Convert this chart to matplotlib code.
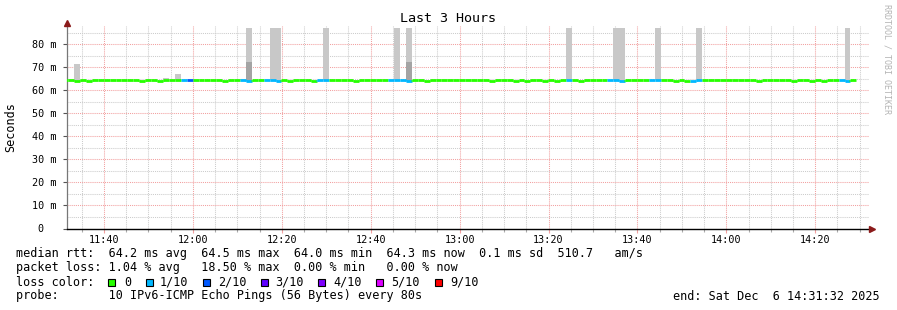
import matplotlib
matplotlib.use("Agg")
import matplotlib.pyplot as plt
from matplotlib.patches import Rectangle
from matplotlib.ticker import MultipleLocator, FuncFormatter

# --- data ----------------------------------------------------------------
# time axis in minutes since midnight, one step = 80 s
t_start = 691.56          # 11:31:34 left edge of graph
t_end = 872.1
t_first_step = 690.59     # start of first (partly hidden) step
step = 80 / 60

B, U, D = 64.2, 64.5, 63.8
median_ms = [
    U, B, D, B, D, U, U, B, B, U,
    B, B, B, D, B, B, D, U, B, B,
    B, U, U, U, B, B, B, D, B, B,
    B, D, B, B, B, B, D, B, D, U,
    B, B, D, U, U, U, B, B, B, D,
    B, B, B, B, B, U, B, B, D, B,
    B, D, U, B, B, B, U, U, U, U,
    B, B, D, B, B, B, D, B, D, B,
    B, D, B, D, U, B, B, D, U, U,
    U, U, B, B, D, U, B, B, B, B,
    B, B, B, D, B, D, D, U, B, B,
    B, U, U, U, B, B, B, D, B, B,
    B, B, B, D, B, B, D, B, D, B,
    B, U, D, U,
]
loss = [
    0, 0, 0, 0, 0, 0, 0, 0, 0, 0,
    0, 0, 0, 0, 0, 0, 0, 0, 0, 0,
    1, 2, 0, 0, 0, 0, 0, 0, 0, 0,
    1, 1, 0, 0, 1, 1, 1, 0, 0, 0,
    0, 0, 0, 1, 1, 0, 0, 0, 0, 0,
    0, 0, 0, 0, 0, 1, 1, 1, 1, 0,
    0, 0, 0, 0, 0, 0, 0, 0, 0, 0,
    0, 0, 0, 0, 0, 0, 0, 0, 0, 0,
    0, 0, 0, 0, 0, 1, 0, 0, 0, 0,
    0, 0, 1, 1, 1, 0, 0, 0, 0, 1,
    1, 0, 0, 0, 0, 0, 1, 1, 0, 0,
    0, 0, 0, 0, 0, 0, 0, 0, 0, 0,
    0, 0, 0, 0, 0, 0, 0, 0, 0, 0,
    0, 1, 1, 0,
]
# smoke (ping spread) – step index (i, first step = -1) and top value
smoke_idx = [1, 16, 18, 29, 30, 34, 35, 43, 55, 57, 84, 92, 93, 99, 106, 131]
smoke_top = [71.5, 65.3, 67.0, 64.8, 87, 87, 87, 87, 87, 87, 87, 87, 87, 87, 87, 87]
dark_idx = [30, 57]
dark_top = [72.3, 72.0]

loss_labels = ["0", "1/10", "2/10", "3/10", "4/10", "5/10", "9/10"]
loss_colors = ["#26ff00", "#00b8ff", "#0059ff", "#5e00ff", "#7e00ff", "#dd00ff", "#ff0000"]
loss_color_of = {0: "#26ff00", 1: "#00b8ff", 2: "#0059ff", 3: "#5e00ff",
                 4: "#7e00ff", 5: "#dd00ff", 9: "#ff0000"}

line1 = "median rtt:  64.2 ms avg  64.5 ms max  64.0 ms min  64.3 ms now  0.1 ms sd  510.7   am/s"
line2 = "packet loss: 1.04 % avg   18.50 % max  0.00 % min   0.00 % now"
line3 = "loss color:"
line4 = "probe:       10 IPv6-ICMP Echo Pings (56 Bytes) every 80s"
end_text = "end: Sat Dec  6 14:31:32 2025"

# --- figure ----------------------------------------------------------------
W, H = 897, 310
MONO = "DejaVu Sans Mono"
plt.rcParams["font.family"] = MONO

fig = plt.figure(figsize=(W / 100, H / 100), dpi=100)
fig.patch.set_facecolor("white")
ax = fig.add_axes([66.5 / W, 81.5 / H, (869 - 66.5) / W, (284.4 - 81.5) / H])
ax.set_xlim(t_start, t_end)
ax.set_ylim(0, 88)

edges = [t_first_step + k * step for k in range(len(median_ms))]

# grid
ax.xaxis.set_major_locator(MultipleLocator(20))
ax.xaxis.set_minor_locator(MultipleLocator(5))
ax.yaxis.set_major_locator(MultipleLocator(10))
ax.yaxis.set_minor_locator(MultipleLocator(5))
ax.grid(which="minor", color="#cccccc", linestyle=(0, (1, 1)), linewidth=0.75)
ax.grid(which="major", color="#f2a0a0", linestyle=(0, (1, 1)), linewidth=0.75)
ax.set_axisbelow(True)

# smoke
sx = [edges[i + 1] for i in smoke_idx]
sb = [median_ms[i + 1] for i in smoke_idx]
ax.bar(sx, [t - b for t, b in zip(smoke_top, sb)], width=step, bottom=sb,
       align="edge", color="#c8c8c8", linewidth=0, zorder=3)
dx = [edges[i + 1] for i in dark_idx]
db = [median_ms[i + 1] for i in dark_idx]
ax.bar(dx, [t - b for t, b in zip(dark_top, db)], width=step, bottom=db,
       align="edge", color="#a4a4a4", linewidth=0, zorder=3)

# median line coloured by loss
cols = [loss_color_of[l] for l in loss]
ax.hlines(median_ms, edges, [e + step for e in edges], colors=cols,
          linewidth=2.0, zorder=4, clip_on=True)
ax.vlines(edges[1:], median_ms[:-1], median_ms[1:], colors=cols[1:],
          linewidth=2.0, zorder=4)

# axes look
for s in ("top", "right"):
    ax.spines[s].set_visible(False)
ax.spines["left"].set_color("#777777")
ax.spines["bottom"].set_color("black")
ax.spines["left"].set_linewidth(0.9)
ax.spines["bottom"].set_linewidth(1.0)
ax.tick_params(axis="y", which="major", length=3, width=0.8, color="#555555",
               labelsize=7.3, pad=4)
ax.tick_params(axis="y", which="minor", length=0)
ax.tick_params(axis="x", which="major", length=3, width=0.8, color="#f2a0a0",
               labelsize=7.3, pad=2)
ax.tick_params(axis="x", which="minor", length=2, width=0.8, color="#aaaaaa")


def fmt_time(v, pos):
    m = int(round(v))
    return f"{m // 60:02d}:{m % 60:02d}"


def fmt_ms(v, pos):
    v = int(round(v))
    return "0  " if v == 0 else f"{v} m"


ax.xaxis.set_major_formatter(FuncFormatter(fmt_time))
ax.yaxis.set_major_formatter(FuncFormatter(fmt_ms))
ax.set_yticks(range(0, 81, 10))

# arrow heads
ax.plot([0], [1.012], marker="^", color="#8b1a1a", markersize=4,
        transform=ax.transAxes, clip_on=False, zorder=6)
ax.plot([1.004], [0], marker=">", color="#8b1a1a", markersize=4,
        transform=ax.transAxes, clip_on=False, zorder=6)


def ftext(x, y, s, **kw):
    fig.text(x / W, 1 - y / H, s, **kw)


ftext(448, 19, "Last 3 Hours", ha="center", va="center", fontsize=9.6)
ftext(11, 127, "Seconds", ha="center", va="center", rotation=90, fontsize=8.5)
ftext(887, 59, "RRDTOOL / TOBI OETIKER", ha="center", va="center",
      rotation=270, fontsize=6, color="#b4b4b4")

ftext(16, 254, line1, ha="left", va="center", fontsize=8.5)
ftext(16, 268, line2, ha="left", va="center", fontsize=8.5)
ftext(16, 282, line3, ha="left", va="center", fontsize=8.5)
ftext(16, 296, line4, ha="left", va="center", fontsize=8.5)
ftext(880, 296, end_text, ha="right", va="center", fontsize=8.5)

box_x = [108, 146, 203, 261, 318, 376, 435]
label_x = [124, 160, 218, 275, 333, 391, 450]
for bx, lx, lab, c in zip(box_x, label_x, loss_labels, loss_colors):
    fig.add_artist(Rectangle((bx / W, 1 - 286 / H), 7 / W, 7 / H,
                             transform=fig.transFigure, facecolor=c,
                             edgecolor="black", linewidth=0.8))
    ftext(lx, 282, lab, ha="left", va="center", fontsize=8.5)

fig.savefig("out.png", dpi=100, facecolor="white")
